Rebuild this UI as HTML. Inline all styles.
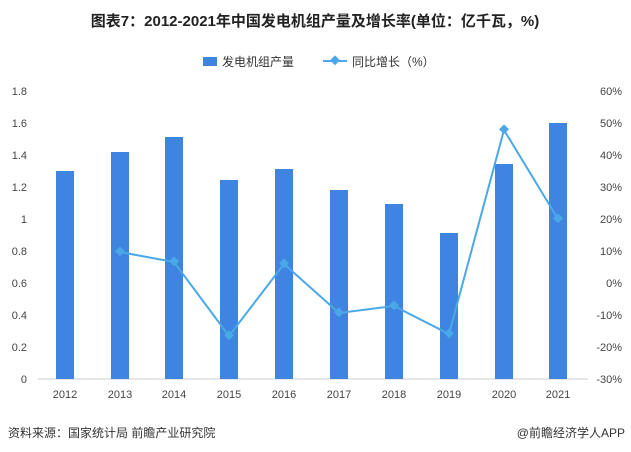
<!DOCTYPE html><html><head><meta charset="utf-8"><style>body{margin:0;background:#fff}svg{display:block}text{font-family:"Liberation Sans","Noto Sans CJK SC",sans-serif}</style></head><body>
<svg width="631" height="452" viewBox="0 0 631 452">
<text x="315" y="26" text-anchor="middle" font-size="15" font-weight="bold" fill="#222">图表7：2012-2021年中国发电机组产量及增长率(单位：亿千瓦，%)</text>
<rect x="203" y="57" width="14" height="9" fill="#3e84e0"/>
<text x="222" y="66" font-size="12" fill="#333">发电机组产量</text>
<line x1="323" y1="61" x2="347" y2="61" stroke="#4aa8e8" stroke-width="2"/>
<rect x="331" y="57" width="7" height="7" fill="#4aa8e8" transform="rotate(45 335 61)"/>
<text x="352" y="66" font-size="12" fill="#333">同比增长（%）</text>
<g font-size="11" fill="#444">
<text x="27" y="95" text-anchor="end">1.8</text><text x="27" y="127" text-anchor="end">1.6</text><text x="27" y="159" text-anchor="end">1.4</text><text x="27" y="191" text-anchor="end">1.2</text><text x="27" y="223" text-anchor="end">1</text><text x="27" y="255" text-anchor="end">0.8</text><text x="27" y="287" text-anchor="end">0.6</text><text x="27" y="319" text-anchor="end">0.4</text><text x="27" y="351" text-anchor="end">0.2</text><text x="27" y="383" text-anchor="end">0</text>
<text x="622" y="95" text-anchor="end">60%</text><text x="622" y="127" text-anchor="end">50%</text><text x="622" y="159" text-anchor="end">40%</text><text x="622" y="191" text-anchor="end">30%</text><text x="622" y="223" text-anchor="end">20%</text><text x="622" y="255" text-anchor="end">10%</text><text x="622" y="287" text-anchor="end">0%</text><text x="622" y="319" text-anchor="end">-10%</text><text x="622" y="351" text-anchor="end">-20%</text><text x="622" y="383" text-anchor="end">-30%</text>
</g>
<line x1="38" y1="379" x2="588" y2="379" stroke="#ccc"/>
<g fill="#3e84e0">
<rect x="56" y="171" width="18" height="208"/><rect x="111" y="152" width="18" height="227"/><rect x="165" y="137" width="18" height="242"/><rect x="220" y="180" width="18" height="199"/><rect x="275" y="169" width="18" height="210"/><rect x="330" y="190" width="18" height="189"/><rect x="385" y="204" width="18" height="175"/><rect x="440" y="233" width="18" height="146"/><rect x="495" y="164" width="18" height="215"/><rect x="549" y="123" width="18" height="256"/>
</g>
<g font-size="11" fill="#444" text-anchor="middle">
<text x="65" y="398">2012</text><text x="120" y="398">2013</text><text x="174" y="398">2014</text><text x="229" y="398">2015</text><text x="284" y="398">2016</text><text x="339" y="398">2017</text><text x="394" y="398">2018</text><text x="449" y="398">2019</text><text x="504" y="398">2020</text><text x="558" y="398">2021</text>
</g>
<polyline fill="none" stroke="#4aa8e8" stroke-width="2" points="120,252 174,262 229,336 284,264 339,313 394,306 449,334 504,130 558,219"/>
<g fill="#4aa8e8">
<rect x="116" y="248" width="7" height="7" transform="rotate(45 120 252)"/><rect x="170" y="258" width="7" height="7" transform="rotate(45 174 262)"/><rect x="225" y="332" width="7" height="7" transform="rotate(45 229 336)"/><rect x="280" y="260" width="7" height="7" transform="rotate(45 284 264)"/><rect x="335" y="309" width="7" height="7" transform="rotate(45 339 313)"/><rect x="390" y="302" width="7" height="7" transform="rotate(45 394 306)"/><rect x="445" y="330" width="7" height="7" transform="rotate(45 449 334)"/><rect x="500" y="126" width="7" height="7" transform="rotate(45 504 130)"/><rect x="554" y="215" width="7" height="7" transform="rotate(45 558 219)"/>
</g>
<text x="8" y="437" font-size="12" fill="#333">资料来源：国家统计局 前瞻产业研究院</text>
<text x="625" y="437" font-size="12" fill="#333" text-anchor="end">@前瞻经济学人APP</text>
</svg></body></html>
